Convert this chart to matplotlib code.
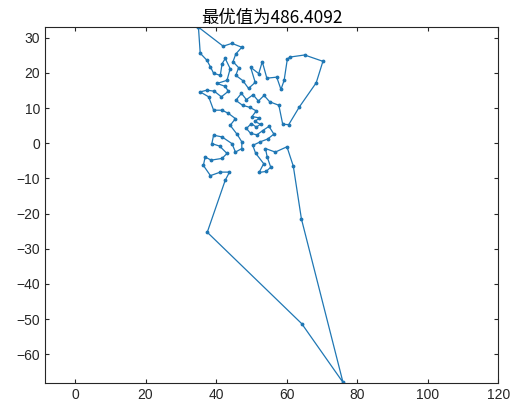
import matplotlib

matplotlib.use("Agg")
import matplotlib.pyplot as plt
import numpy as np

plt.rcParams["font.family"] = ["Liberation Sans", "Noto Sans CJK SC", "DejaVu Sans"]

# city coordinates in tour order (closed route)
route_x = [
    35.0, 42.0, 44.5, 47.3, 45.6, 44.8, 46.4, 45.6, 47.6, 49.2, 51.1, 49.8, 52.1, 53.1, 54.4,
    57.2, 58.4, 59.3, 60.2, 60.9, 65.1, 70.3, 68.4, 63.6, 60.6, 58.9, 57.8, 55.2, 53.6, 52.0,
    50.5, 48.6, 47.2, 45.6, 47.5, 49.6, 51.4, 50.2, 52.3, 51.0, 52.6, 51.4, 50.0, 48.6, 49.8,
    51.6, 53.2, 55.0, 56.4, 54.6, 52.5, 50.4, 51.2, 53.5, 52.2, 54.2, 55.5, 54.5, 54.0, 56.8,
    60.1, 61.9, 64.2, 76.0, 64.3, 37.5, 42.6, 43.8, 41.2, 38.4, 36.4, 36.9, 38.6, 41.7, 43.1,
    41.0, 38.8, 39.3, 41.7, 44.5, 45.5, 47.3, 47.3, 46.0, 44.0, 45.5, 43.5, 41.7, 39.3, 37.9,
    35.5, 37.4, 39.5, 41.5, 43.5, 42.5, 40.3, 43.1, 44.0, 42.6, 41.7, 41.2, 39.3, 38.4, 37.4,
    35.5, 35.0,
]
route_y = [
    33.0, 27.6, 28.4, 27.3, 25.4, 23.2, 21.5, 19.3, 17.8, 15.6, 17.3, 21.6, 19.8, 23.2, 18.5,
    18.8, 15.3, 17.9, 23.9, 24.5, 25.1, 23.3, 17.2, 10.3, 5.3, 5.4, 10.8, 11.8, 13.6, 12.0,
    13.8, 12.4, 14.2, 12.2, 10.8, 10.2, 9.2, 7.6, 7.2, 6.2, 5.4, 4.6, 5.6, 4.2, 2.8,
    2.4, 3.6, 4.8, 2.6, 1.2, 0.4, -0.6, -2.8, -5.8, -8.3, -8.0, -6.8, -3.9, -1.5, -2.5,
    -1.0, -6.5, -21.5, -68.0, -51.3, -25.3, -10.5, -8.2, -8.2, -9.2, -6.3, -3.9, -4.8, -4.3, -2.9,
    -0.8, -0.1, 2.3, 1.8, -0.1, -2.5, -1.5, 0.4, 2.5, 5.1, 7.0, 8.5, 9.4, 9.4, 13.2,
    14.6, 15.1, 14.8, 13.2, 14.8, 16.2, 17.0, 17.9, 21.2, 24.1, 22.6, 19.3, 19.9, 21.7, 23.6,
    25.6, 33.0,
]
best_length = 486.4092

fig = plt.figure(figsize=(5.12, 4.12), dpi=100)
ax = fig.add_axes([0.088, 0.070, 0.885, 0.864])
ax.plot(route_x, route_y, color="#1f77b4", lw=0.9, marker=".", markersize=3.5)

ax.set_xlim(-8.5, 120)
ax.set_ylim(-68.2, 33)
ax.set_xticks(np.arange(0, 121, 20))
ax.set_yticks(np.arange(-60, 31, 10))
ax.tick_params(direction="in", length=3, top=True, right=True, labelsize=10,
               colors="#262626")
for spine in ax.spines.values():
    spine.set_color("#262626")
    spine.set_linewidth(0.8)
ax.set_title(f"最优值为{best_length:.4f}", fontsize=12.5, pad=3,
             family=["Noto Sans CJK SC", "Liberation Sans"])

fig.savefig("out.png", dpi=100)
plt.close(fig)
